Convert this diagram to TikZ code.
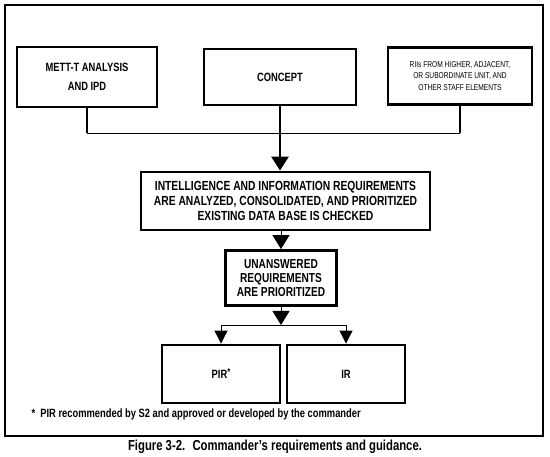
\documentclass[tikz,border=0pt]{standalone}
\usepackage{fontspec}
\setmainfont{Liberation Sans}[FakeStretch=0.78]
\usetikzlibrary{arrows.meta}
\tikzstyle{block} = [rectangle, draw=black, line width=2.8pt, align=center, text centered, font=\bfseries\fontsize{12}{19}\selectfont]
\tikzstyle{stem} = [line width=2.8pt]
\tikzstyle{feed} = [line width=0.9pt]
\tikzstyle{bigtip} = [-{Triangle[width=17pt,length=14pt]}]
\tikzstyle{smalltip} = [-{Triangle[width=13pt,length=13pt]}]

\begin{document}
\begin{tikzpicture}[x=1pt,y=-1pt]
\useasboundingbox (0,0) rectangle (550,457);
\draw[line width=2.8pt] (5,5) rectangle (543,436);
% source boxes
\node[block, minimum width=140pt, minimum height=60pt] (mett) at (87,77) {METT-T ANALYSIS\\AND IPD};
\node[block, minimum width=152pt, minimum height=56pt] (concept) at (280,77) {CONCEPT};
\node[block, minimum width=144pt, minimum height=57pt, font=\fontsize{8.5}{11.5}\selectfont] (rii) at (460,76) {RIIs FROM HIGHER, ADJACENT,\\OR SUBORDINATE UNIT, AND\\OTHER STAFF ELEMENTS};
\coordinate (bus) at (280,133);
\draw[stem] (mett.south) -- (mett.south |- bus);
\draw[stem] (rii.south) -- (rii.south |- bus);
\draw[feed] (mett.south |- bus) -- (rii.south |- bus);
% processing
\node[block, minimum width=289pt, minimum height=58pt, font=\bfseries\fontsize{13.2}{15}\selectfont] (intel) at (285.5,201) {INTELLIGENCE AND INFORMATION REQUIREMENTS\\ARE ANALYZED, CONSOLIDATED, AND PRIORITIZED\\EXISTING DATA BASE IS CHECKED};
\draw[stem,bigtip] (concept.south) -- (concept.south |- intel.north);
\node[block, minimum width=111pt, minimum height=55pt, font=\bfseries\fontsize{13}{14}\selectfont] (unans) at (281,278) {UNANSWERED\\REQUIREMENTS\\ARE PRIORITIZED};
\draw[feed,bigtip] (intel.south -| unans.north) -- (unans.north);
% results
\node[block, minimum width=118pt, minimum height=58pt] (pir) at (221,374) {PIR\raisebox{3pt}{\fontsize{10}{10}\selectfont *}};
\node[block, minimum width=118pt, minimum height=58pt] (ir) at (346,374) {IR};
\coordinate (split) at (281,325);
\draw[feed,bigtip] (unans.south) -- (split);
\draw[feed,smalltip] (split) -| (pir.north);
\draw[feed,smalltip] (split) -| (ir.north);
\node[anchor=west, font=\bfseries\fontsize{12}{13}\selectfont] (note) at (28,414) {* \ PIR recommended by S2 and approved or developed by the commander};
\node[font=\bfseries\fontsize{14.5}{16}\selectfont] (caption) at (275,447) {Figure 3-2. \ Commander's requirements and guidance.};
\end{tikzpicture}
\end{document}
